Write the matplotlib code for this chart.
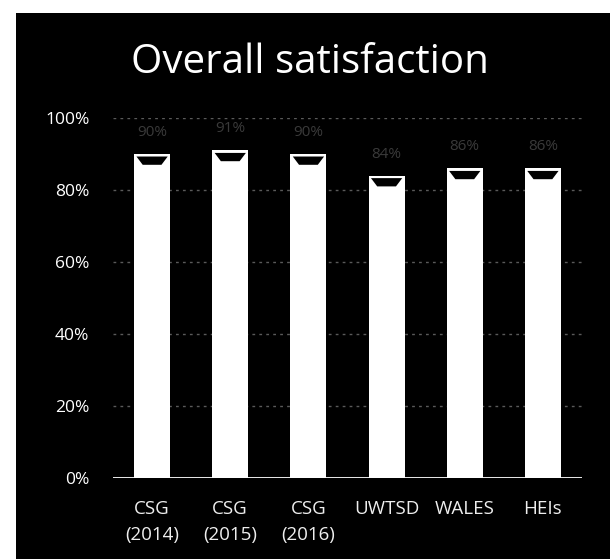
import matplotlib.pyplot as plt
from matplotlib.patches import Rectangle, Polygon
import numpy as np

plt.rcParams['font.family'] = ['Open Sans', 'DejaVu Sans']

# Overall satisfaction, % of respondents
groups = ['CSG\n(2014)', 'CSG\n(2015)', 'CSG\n(2016)', 'UWTSD', 'WALES', 'HEIs']
satisfaction = [90, 91, 90, 84, 86, 86]
yticks = [0, 20, 40, 60, 80, 100]

fig = plt.figure(figsize=(6.1, 5.59), dpi=100)
fig.patch.set_facecolor('white')
# black slide panel behind the chart
fig.patches.append(Rectangle((16 / 610, 0), 1 - 16 / 610, 1 - 13 / 559,
                             transform=fig.transFigure, facecolor='black',
                             edgecolor='none', zorder=-5))

ax = fig.add_axes([113 / 610, 1 - 478 / 559, 469 / 610, 360 / 559])
ax.set_facecolor('none')
ax.set_zorder(2)

x = np.arange(len(groups))
w = 0.46
ax.bar(x, satisfaction, width=w, color='white', edgecolor='none', zorder=3)

# bevelled top on each bar
for xi, v in zip(x, satisfaction):
    cap = Polygon([(xi - w / 2 + 0.03, v - 0.7), (xi + w / 2 - 0.03, v - 0.7),
                   (xi + w / 2 - 0.11, v - 3.0), (xi - w / 2 + 0.11, v - 3.0)],
                  closed=True, facecolor='black', edgecolor='none', zorder=4)
    ax.add_patch(cap)
    ax.text(xi, v + 6, f'{v}%', ha='center', va='center', fontsize=11,
            color='#3a3a3a', zorder=5)

for t in yticks[1:]:
    ax.axhline(t, color='#5a5a5a', lw=1, ls=(0, (2, 3)), zorder=1)
ax.axhline(0, color='white', lw=2, zorder=6)

ax.set_xlim(-0.5, len(groups) - 0.5)
ax.set_ylim(0, 100)
ax.set_yticks(yticks)
ax.set_yticklabels([f'{t}%' for t in yticks], color='white', fontsize=12.5)
ax.set_xticks(x)
ax.set_xticklabels(groups, color='#eeeeee', fontsize=13.5, linespacing=1.55)
ax.tick_params(axis='y', length=0, pad=17)
ax.tick_params(axis='x', length=0, pad=16)
for s in ax.spines.values():
    s.set_visible(False)

fig.text(310 / 610, 1 - 73 / 559, 'Overall satisfaction', ha='center',
         va='baseline', fontsize=29, color='white', zorder=3)

fig.savefig('out.png', dpi=100, facecolor=fig.get_facecolor())
